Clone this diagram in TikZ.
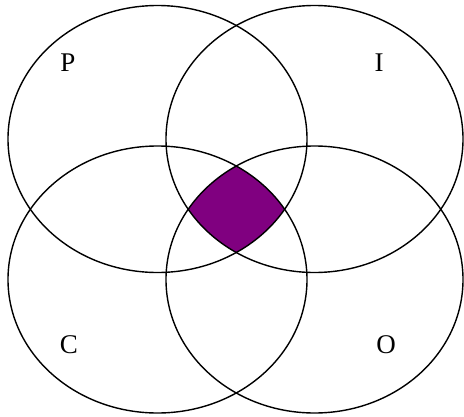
\documentclass[tikz,border=0pt]{standalone}
\usepackage{fontspec}
\setmainfont{Liberation Serif}
\definecolor{picoviolet}{RGB}{128,0,128}
\newcommand{\setP}{(157.5,139) ellipse (149.5 and 133.5)}
\newcommand{\setI}{(314.5,139) ellipse (148.5 and 133.5)}
\newcommand{\setC}{(157.5,279.5) ellipse (149.5 and 133.5)}
\newcommand{\setO}{(314.5,279.5) ellipse (148.5 and 133.5)}

\begin{document}
\begin{tikzpicture}[x=1pt, y=-1pt,
  rim/.style={draw=black, line width=1.4pt},
  letter/.style={font=\fontsize{27}{27}\selectfont, inner sep=0pt}]
  \useasboundingbox (0,0) rectangle (464,416);
  % the part shared by all four sets
  \begin{scope}
    \clip \setP;
    \clip \setI;
    \clip \setC;
    \fill[picoviolet] \setO;
  \end{scope}
  \draw[rim] \setP;
  \draw[rim] \setI;
  \draw[rim] \setC;
  \draw[rim] \setO;
  \node[letter] (p) at (68,63) {P};
  \node[letter] (i) at (379,63) {I};
  \node[letter] (c) at (69,345) {C};
  \node[letter] (o) at (386,345) {O};
\end{tikzpicture}
\end{document}
